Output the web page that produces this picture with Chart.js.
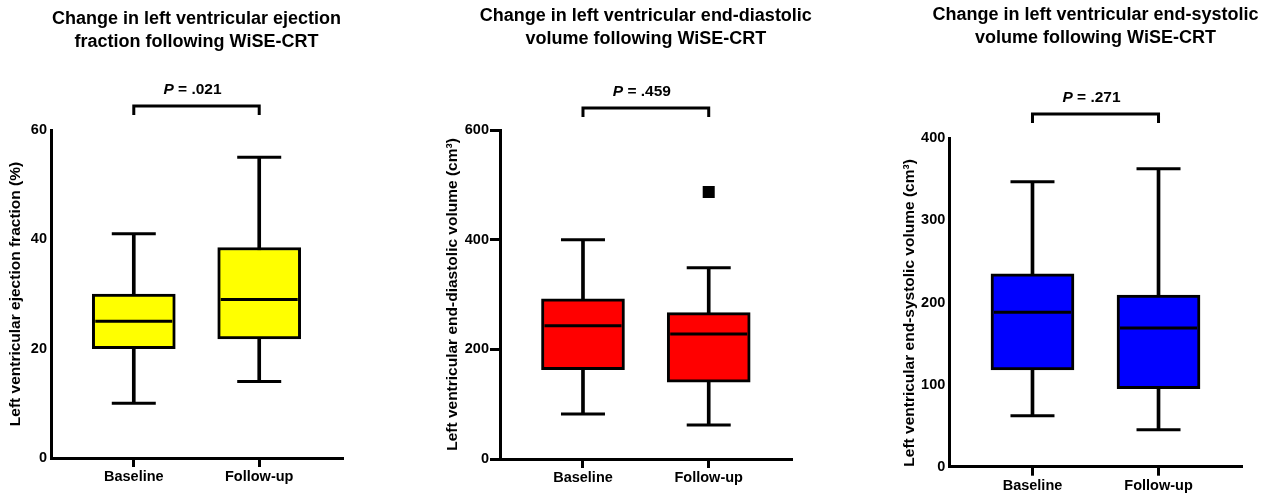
<!DOCTYPE html>
<html>
<head>
<meta charset="utf-8">
<script src="https://cdn.jsdelivr.net/npm/chart.js@4/dist/chart.umd.min.js"></script>
<style>
  html, body { margin: 0; padding: 0; background: #fff; width: 1270px; height: 495px; overflow: hidden; }
  canvas { position: absolute; top: 0; }
</style>
</head>
<body>
<canvas id="c1" width="420" height="495" style="left:0px"></canvas>
<canvas id="c2" width="430" height="495" style="left:420px"></canvas>
<canvas id="c3" width="420" height="495" style="left:850px"></canvas>
<script>
// ---------- data ----------
const categories = ['Baseline', 'Follow-up'];

// Panel 1: LV ejection fraction (%)
const efMin = [10, 14];
const efQ1 = [20, 21.8];
const efMedian = [25, 29];
const efQ3 = [30, 38.5];
const efMax = [41, 55];
const efOutliers = [[], []];
const efTicks = [0, 20, 40, 60];

// Panel 2: LV end-diastolic volume (cm3)
const edvMin = [82, 62];
const edvQ1 = [163, 140];
const edvMedian = [243, 228];
const edvQ3 = [292, 267];
const edvMax = [400, 349];
const edvOutliers = [[], [487]];
const edvTicks = [0, 200, 400, 600];

// Panel 3: LV end-systolic volume (cm3)
const esvMin = [62, 45];
const esvQ1 = [118, 95];
const esvMedian = [188, 169];
const esvQ3 = [235, 209];
const esvMax = [347, 363];
const esvOutliers = [[], []];
const esvTicks = [0, 100, 200, 300, 400];

const chartTitles = [
  ['Change in left ventricular ejection', 'fraction following WiSE-CRT'],
  ['Change in left ventricular end-diastolic', 'volume following WiSE-CRT'],
  ['Change in left ventricular end-systolic', 'volume following WiSE-CRT']
];
const yTitles = [
  'Left ventricular ejection fraction (%)',
  'Left ventricular end-diastolic volume (cm\u00B3)',
  'Left ventricular end-systolic volume (cm\u00B3)'
];
const pValues = ['.021', '.459', '.271'];

// ---------- drawing ----------
const FONT = "'Liberation Sans', Arial, Helvetica, sans-serif";

const decor = {
  id: 'decor',
  afterDraw(chart, args, o) {
    const { ctx, chartArea, scales: { x } } = chart;
    ctx.save();
    ctx.fillStyle = '#000';
    ctx.textAlign = 'center';
    ctx.textBaseline = 'middle';
    ctx.font = 'bold 18px ' + FONT;
    const cx = (chartArea.left + chartArea.right) / 2;
    o.title.forEach((t, i) => ctx.fillText(t, cx, o.titleY + i * 23));
    // significance bracket
    const x0 = x.getPixelForValue(0), x1 = x.getPixelForValue(1);
    ctx.strokeStyle = '#000';
    ctx.lineWidth = 3;
    ctx.lineJoin = 'miter';
    ctx.beginPath();
    ctx.moveTo(x0, o.bracketY + 9);
    ctx.lineTo(x0, o.bracketY);
    ctx.lineTo(x1, o.bracketY);
    ctx.lineTo(x1, o.bracketY + 9);
    ctx.stroke();
    // P value text
    const pFont = 'italic bold 15.5px ' + FONT, rFont = 'bold 15.5px ' + FONT;
    ctx.font = pFont; const wP = ctx.measureText('P').width;
    const rest = ' = ' + o.p;
    ctx.font = rFont; const wR = ctx.measureText(rest).width;
    const sx = (x0 + x1) / 2 - 4 - (wP + wR) / 2;
    ctx.textAlign = 'left';
    ctx.font = pFont; ctx.fillText('P', sx, o.pY);
    ctx.font = rFont; ctx.fillText(rest, sx + wP, o.pY);
    ctx.restore();
  }
};

function boxChart(id, cfg) {
  const idx = categories.map((_, i) => i);
  const tickFont = { family: FONT, size: 14.5, weight: 'bold' };
  const datasets = [
    { type: 'bar', label: 'whisker', data: idx.map(i => ({ x: i, y: [cfg.min[i], cfg.max[i]] })),
      backgroundColor: '#000', borderWidth: 0, barThickness: 3, grouped: false, order: 3 },
    { type: 'bar', label: 'box', data: idx.map(i => ({ x: i, y: [cfg.q1[i], cfg.q3[i]] })),
      backgroundColor: cfg.color, borderColor: '#000', borderWidth: 3, borderSkipped: false,
      barThickness: 83, grouped: false, order: 2 },
    { type: 'scatter', label: 'caps', data: idx.flatMap(i => [{ x: i, y: cfg.min[i] }, { x: i, y: cfg.max[i] }]),
      pointStyle: 'line', pointRadius: 22, pointBorderWidth: 3, pointBorderColor: '#000', order: 1 },
    { type: 'scatter', label: 'median', data: idx.map(i => ({ x: i, y: cfg.median[i] })),
      pointStyle: 'line', pointRadius: 38.5, pointBorderWidth: 3, pointBorderColor: '#000', order: 1 },
    { type: 'scatter', label: 'outliers', data: idx.flatMap(i => cfg.outliers[i].map(v => ({ x: i, y: v }))),
      pointStyle: 'rect', pointRadius: 8.5, pointBackgroundColor: '#000', pointBorderWidth: 0, order: 0 }
  ];
  const yGrid = cfg.yTickMarks
    ? { display: true, drawOnChartArea: false, drawTicks: true, tickLength: 10, color: '#000', lineWidth: 3 }
    : { display: false, drawOnChartArea: false, drawTicks: false };
  return new Chart(document.getElementById(id), {
    type: 'bar',
    data: { datasets },
    plugins: [decor],
    options: {
      responsive: false,
      animation: false,
      events: [],
      layout: { autoPadding: false, padding: { top: cfg.padTop, right: cfg.padRight, left: 0, bottom: 0 } },
      plugins: {
        legend: { display: false },
        tooltip: { enabled: false },
        title: { display: false },
        decor: { title: cfg.title, titleY: cfg.titleY, bracketY: cfg.bracketY, pY: cfg.pY, p: cfg.p }
      },
      scales: {
        x: {
          type: 'linear', min: -0.66, max: 1.66, offset: false, bounds: 'data',
          afterBuildTicks: s => { s.ticks = idx.map(i => ({ value: i })); },
          afterFit: s => { s.height = cfg.xHeight; },
          grid: { display: true, drawOnChartArea: false, drawTicks: true, tickLength: 9, color: '#000', lineWidth: 3, offset: false },
          border: { display: true, color: '#000', width: 3 },
          ticks: { callback: v => categories[v], color: '#000', font: tickFont, padding: 1.5, maxRotation: 0, autoSkip: false }
        },
        y: {
          type: 'linear', min: cfg.ticks[0], max: cfg.ticks[cfg.ticks.length - 1],
          afterBuildTicks: s => { s.ticks = cfg.ticks.map(v => ({ value: v })); },
          afterFit: s => { s.width = cfg.yWidth; },
          grid: yGrid,
          border: { display: true, color: '#000', width: 3 },
          ticks: { color: '#000', font: tickFont, padding: cfg.yTickPad, callback: v => String(v) },
          title: { display: true, text: cfg.yTitle, color: '#000', align: cfg.yTitleAlign,
                   font: { family: FONT, size: 15.5, weight: 'bold' }, padding: { top: cfg.yTitlePad, bottom: 0 } }
        }
      }
    }
  });
}

boxChart('c1', {
  min: efMin, q1: efQ1, median: efMedian, q3: efQ3, max: efMax, outliers: efOutliers, ticks: efTicks,
  color: '#FFFF00', title: chartTitles[0], yTitle: yTitles[0], p: pValues[0],
  yWidth: 51, padRight: 78, padTop: 130, xHeight: 37, yTickMarks: false, yTickPad: 4, yTitlePad: 6.7,
  yTitleAlign: 'center', titleY: 19, pY: 90, bracketY: 106
});
boxChart('c2', {
  min: edvMin, q1: edvQ1, median: edvMedian, q3: edvQ3, max: edvMax, outliers: edvOutliers, ticks: edvTicks,
  color: '#FF0000', title: chartTitles[1], yTitle: yTitles[1], p: pValues[1],
  yWidth: 80, padRight: 58.3, padTop: 130, xHeight: 36, yTickMarks: true, yTickPad: 1, yTitlePad: 23.7,
  yTitleAlign: 'center', titleY: 16, pY: 91.7, bracketY: 108
});
boxChart('c3', {
  min: esvMin, q1: esvQ1, median: esvMedian, q3: esvQ3, max: esvMax, outliers: esvOutliers, ticks: esvTicks,
  color: '#0000FF', title: chartTitles[2], yTitle: yTitles[2], p: pValues[2],
  yWidth: 99.3, padRight: 28.3, padTop: 138.3, xHeight: 28.3, yTickMarks: false, yTickPad: 4, yTitlePad: 50.7,
  yTitleAlign: 'start', titleY: 15, pY: 98, bracketY: 114
});
</script>
</body>
</html>
